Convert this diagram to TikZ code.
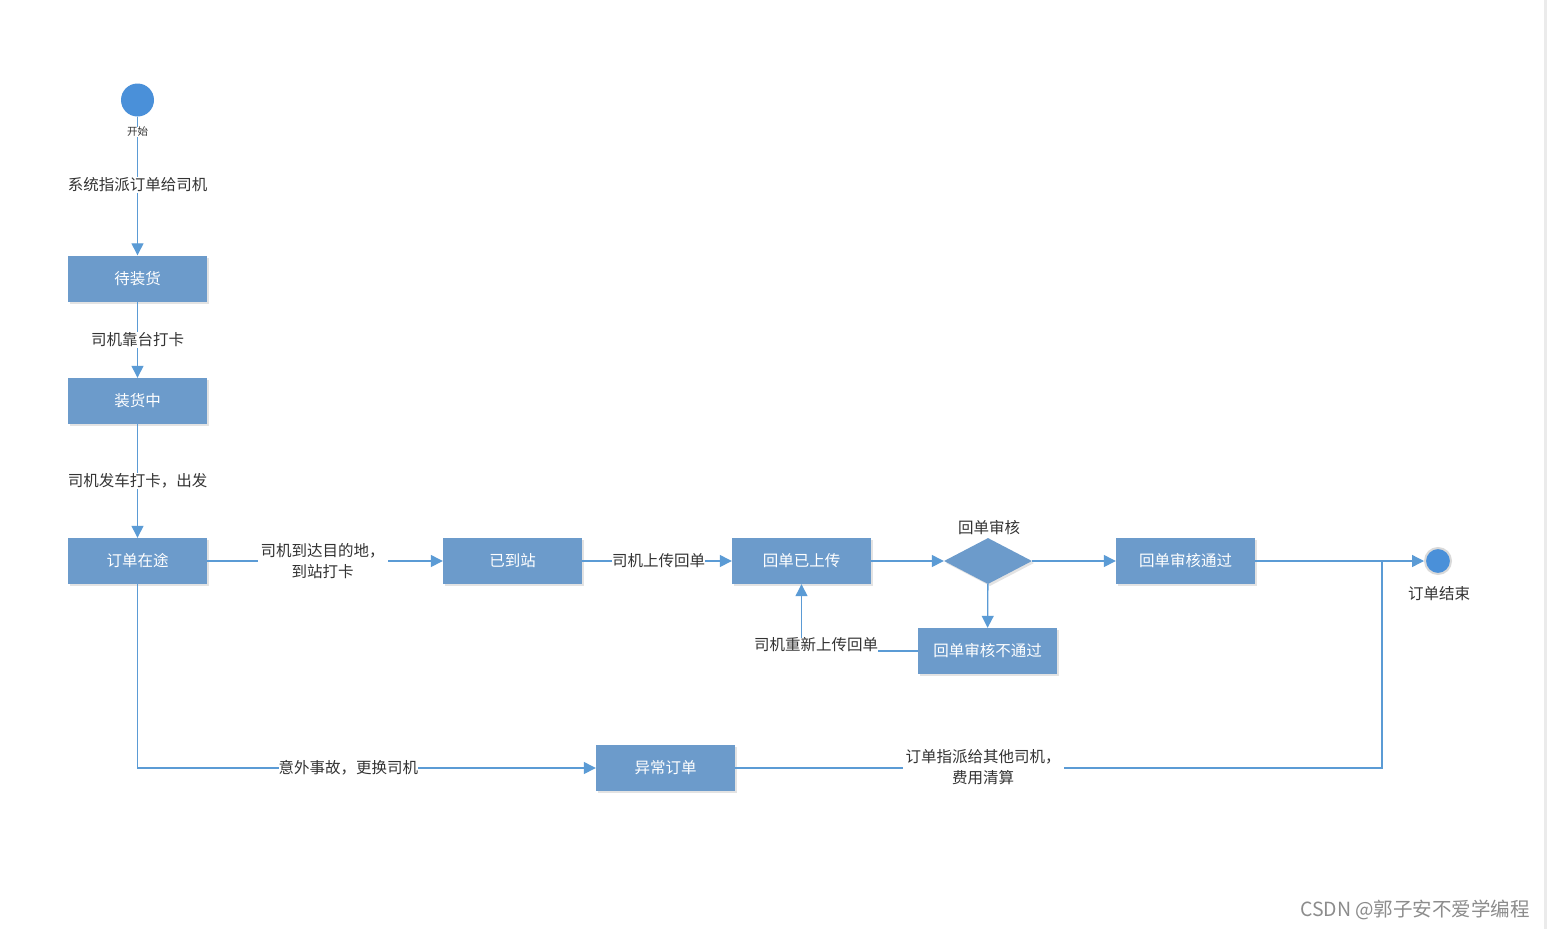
\documentclass[tikz,border=0pt]{standalone}
\usepackage{fontspec}
\setmainfont{Noto Sans CJK SC}
\usetikzlibrary{arrows.meta,shapes.geometric,shadows}
\definecolor{boxblue}{RGB}{108,155,203}
\definecolor{lineblue}{RGB}{91,155,213}
\definecolor{dotblue}{RGB}{74,144,217}
\definecolor{txt}{RGB}{51,51,51}
\begin{document}
\begin{tikzpicture}[x=1pt,y=-1pt,
  state/.style={fill=boxblue, text=white, minimum width=139pt, minimum height=46pt, inner sep=0pt,
    font=\fontsize{15.5}{18}\selectfont, drop shadow={opacity=0.22,shadow xshift=2pt,shadow yshift=-2pt}},
  lbl/.style={fill=white, text=txt, inner sep=1pt, font=\fontsize{15.5}{20}\selectfont, align=center},
  conn/.style={draw=lineblue, line width=1.3pt},
  arr/.style={conn, -{Triangle[length=12pt,width=12pt]}},
]
\useasboundingbox (0,0) rectangle (1547,929);
\fill[white] (0,0) rectangle (1547,929);
\fill[black!8] (1544,0) rectangle (1547,929);

% nodes
\node[circle, fill=dotblue, minimum size=33pt, inner sep=0pt] (start) at (137.5,100) {};
\node[state] (wait) at (137.5,278.5) {待装货};
\node[state] (load) at (137.5,401) {装货中};
\node[state] (transit) at (137.5,561) {订单在途};
\node[state] (arrived) at (512.5,561) {已到站};
\node[state] (uploaded) at (801.5,561) {回单已上传};
\node[diamond, fill=boxblue, minimum width=88pt, minimum height=46pt, inner sep=0pt, aspect=1.9,
  drop shadow={opacity=0.22,shadow xshift=2pt,shadow yshift=-2pt}] (check) at (988,561) {};
\node[state] (pass) at (1185.5,561) {回单审核通过};
\node[state] (fail) at (987.5,651) {回单审核不通过};
\node[state] (abnormal) at (665.5,768) {异常订单};
\node[circle, fill=dotblue, draw=black!15, line width=2pt, minimum size=26pt, inner sep=0pt] (end) at (1438,561) {};

\coordinate (retry) at (801.5,651);
\coordinate (down) at (137.5,768);
\coordinate (rt) at (1382,768);
\coordinate (join) at (1382,561);

% connectors
\draw[arr] (start) -- (wait);
\node[lbl, font=\fontsize{10.5}{12}\selectfont, inner sep=0.5pt] (startlbl) at (137.5,132) {开始};
\node[lbl] (l1) at (137.5,185) {系统指派订单给司机};
\draw[arr] (wait) -- node[lbl] (l2) {司机靠台打卡} (load);
\draw[arr] (load) -- node[lbl] (l3) {司机发车打卡，出发} (transit);
\draw[arr] (transit) -- node[lbl, pos=0.49, inner sep=3pt, font=\fontsize{15.5}{21}\selectfont] (l4) {司机到达目的地，\\到站打卡} (arrived);
\draw[arr] (arrived) -- node[lbl, pos=0.51, inner sep=0pt] (l5) {司机上传回单} (uploaded);
\draw[arr] (uploaded) -- (check);
\node[text=txt, font=\fontsize{15.5}{18}\selectfont] (l6) at (989,528) {回单审核};
\draw[arr] (check) -- (pass);
\draw[arr] (check) -- (fail);
\draw[arr] (pass) -- (end);
\node[text=txt, font=\fontsize{15.5}{18}\selectfont] (l7) at (1439,594) {订单结束};
\draw[arr] (fail) -- (retry) -- (uploaded);
\node[lbl, inner sep=0pt] (l8) at (816,645) {司机重新上传回单};
\draw[arr] (transit) -- (down) -- node[lbl, pos=0.46, inner sep=0pt] (l9) {意外事故，更换司机} (abnormal);
\draw[conn] (abnormal) -- (rt) -- (join);
\node[lbl, inner sep=3pt, font=\fontsize{15.5}{21}\selectfont] (l10) at (983,767) {订单指派给其他司机，\\费用清算};

\node[text=black!45, font=\fontsize{19.5}{22}\selectfont] (wm) at (1415,910) {CSDN @郭子安不爱学编程};
\end{tikzpicture}
\end{document}
